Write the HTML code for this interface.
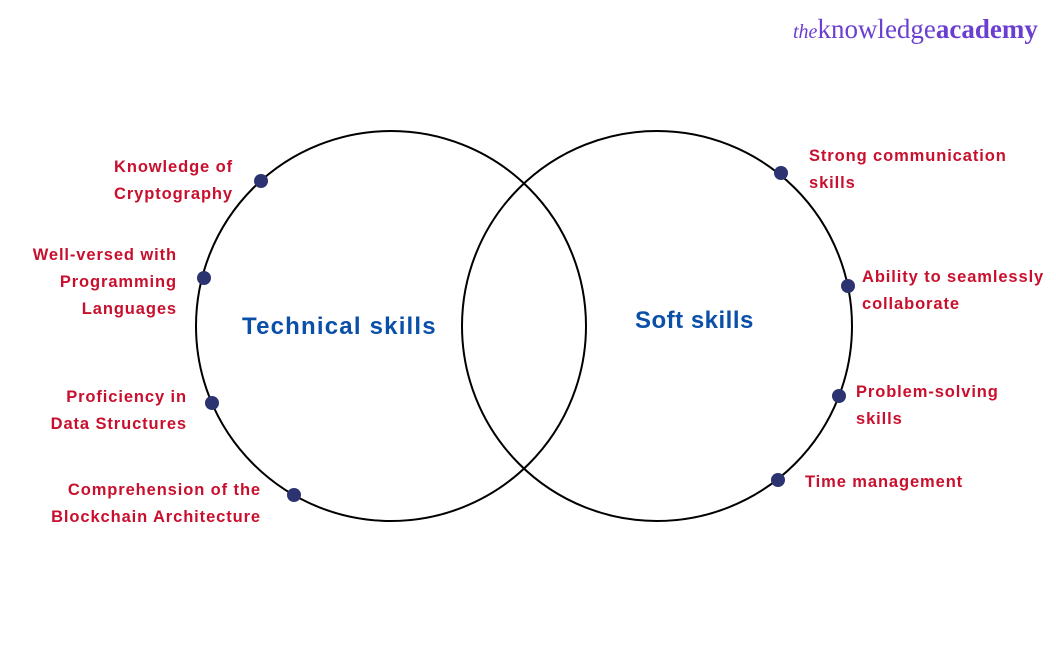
<!DOCTYPE html>
<html><head><style>
body{margin:0;width:1056px;height:656px;background:#fff;position:relative;overflow:hidden;font-family:"Liberation Sans",sans-serif}
.l{position:absolute;color:#c8102e;font-weight:bold;font-size:16.5px;letter-spacing:0.9px;line-height:27px;white-space:nowrap}
.r{text-align:right}
.t{position:absolute;color:#0a4fa8;font-weight:bold;font-size:24px;letter-spacing:1.2px}
.logo{position:absolute;left:793px;top:14px;font-family:"Liberation Serif",serif;color:#6a3fd0;font-size:27px}
</style></head><body>
<svg width="1056" height="656" style="position:absolute;left:0;top:0">
<circle cx="391" cy="326" r="195" fill="none" stroke="#000" stroke-width="2"/>
<circle cx="657" cy="326" r="195" fill="none" stroke="#000" stroke-width="2"/>
<g fill="#2b3370">
<circle cx="261" cy="181" r="7"/><circle cx="204" cy="278" r="7"/><circle cx="212" cy="403" r="7"/><circle cx="294" cy="495" r="7"/>
<circle cx="781" cy="173" r="7"/><circle cx="848" cy="286" r="7"/><circle cx="839" cy="396" r="7"/><circle cx="778" cy="480" r="7"/>
</g></svg>
<div class="logo"><i style="font-size:20px">the</i>knowledge<b>academy</b></div>
<div class="l r" style="right:823px;top:154px">Knowledge of<br>Cryptography</div>
<div class="l r" style="right:879px;top:242px">Well-versed with<br>Programming<br>Languages</div>
<div class="l r" style="right:869px;top:384px">Proficiency in<br>Data Structures</div>
<div class="l r" style="right:795px;top:477px">Comprehension of the<br>Blockchain Architecture</div>
<div class="l" style="left:809px;top:143px">Strong communication<br>skills</div>
<div class="l" style="left:862px;top:264px">Ability to seamlessly<br>collaborate</div>
<div class="l" style="left:856px;top:379px">Problem-solving<br>skills</div>
<div class="l" style="left:805px;top:469px">Time management</div>
<div class="t" style="left:242px;top:313px">Technical skills</div>
<div class="t" style="left:635px;top:307px;letter-spacing:0.5px">Soft skills</div>
</body></html>
